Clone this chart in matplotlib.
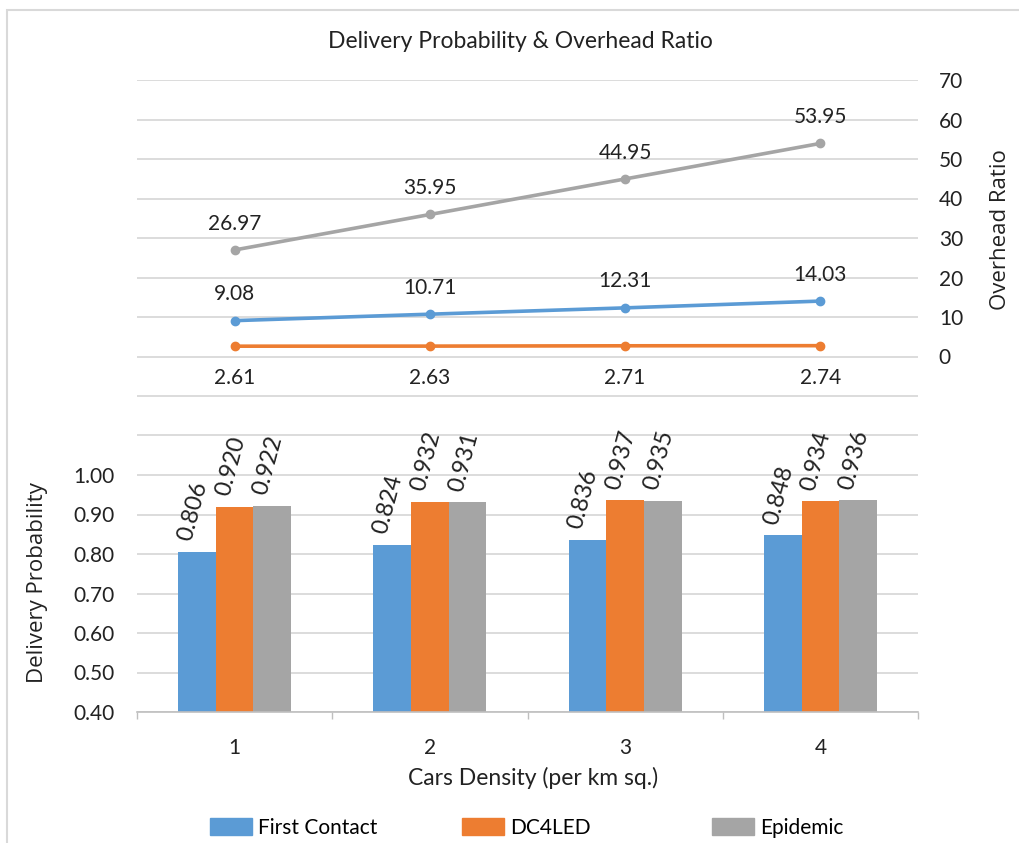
import matplotlib.pyplot as plt
import matplotlib.patches as mpatches
from matplotlib.ticker import FixedLocator, FuncFormatter
import numpy as np

plt.rcParams['font.family'] = ['Lato', 'DejaVu Sans']

# data
densities = ['1', '2', '3', '4']
series = ['First Contact', 'DC4LED', 'Epidemic']
delivery = {
    'First Contact': [0.806, 0.824, 0.836, 0.848],
    'DC4LED': [0.920, 0.932, 0.937, 0.934],
    'Epidemic': [0.922, 0.931, 0.935, 0.936],
}
overhead = {
    'First Contact': [9.08, 10.71, 12.31, 14.03],
    'DC4LED': [2.61, 2.63, 2.71, 2.74],
    'Epidemic': [26.97, 35.95, 44.95, 53.95],
}
colors = {'First Contact': '#5b9bd5', 'DC4LED': '#ed7d31', 'Epidemic': '#a5a5a5'}

fig = plt.figure(figsize=(10.19, 8.43), dpi=100)
# chart area border
fig.patches.append(mpatches.Rectangle((7 / 1019, -0.1), 1.2, 1.1 - 10 / 843,
                                      transform=fig.transFigure, fill=False,
                                      edgecolor='#d9d9d9', linewidth=1.5))

ax = fig.add_axes([137 / 1019, 1 - 712 / 843, (918 - 137) / 1019, (712 - 80) / 843])
x = np.arange(len(densities))
w = 0.193
for k, s in enumerate(series):
    xs = x + (k - 1) * w
    ax.bar(xs, delivery[s], w, bottom=0, color=colors[s], zorder=2)
    for xi, v in zip(xs, delivery[s]):
        ax.annotate(f'{v:.3f}', (xi, v), xytext=(-3, 6), textcoords='offset points',
                    rotation=75, ha='center', va='bottom', fontsize=17, color='#222222')

ax.set_ylim(0.40, 2.00)
ax.set_xlim(-0.5, 3.5)
yt = np.round(np.arange(0.4, 2.001, 0.1), 2)
ax.yaxis.set_major_locator(FixedLocator(yt))
ax.yaxis.set_major_formatter(FuncFormatter(lambda v, p: f'{v:.2f}' if v <= 1.001 else ''))
ax.grid(axis='y', color='#d9d9d9', linewidth=1.3, zorder=0)
ax.set_axisbelow(True)
ax.tick_params(axis='y', length=0, pad=16, labelsize=15, labelcolor='#222222')
ax.set_xticks(x)
ax.set_xticklabels(densities)
ax.set_xticks(np.arange(-0.5, 3.6, 1), minor=True)
ax.tick_params(axis='x', which='major', length=0, pad=19, labelsize=15, labelcolor='#222222')
ax.tick_params(axis='x', which='minor', length=5, color='#bfbfbf', width=1)
for sp in ['top', 'left', 'right']:
    ax.spines[sp].set_visible(False)
ax.spines['bottom'].set_color('#bfbfbf')
ax.spines['bottom'].set_linewidth(1.2)

ax2 = ax.twinx()
ax2.set_ylim(-90, 70)
ax2.yaxis.set_major_locator(FixedLocator(np.arange(0, 71, 10)))
ax2.tick_params(axis='y', length=0, pad=15, labelsize=15, labelcolor='#222222')
for sp in ['top', 'left', 'right', 'bottom']:
    ax2.spines[sp].set_visible(False)
for s in ['DC4LED', 'First Contact', 'Epidemic']:
    ax2.plot(x, overhead[s], color=colors[s], linewidth=2.6, marker='o', markersize=6, zorder=3)
    dy = -23 if s == 'DC4LED' else 19
    for xi, v in zip(x, overhead[s]):
        ax2.annotate(f'{v:.2f}', (xi, v), xytext=(0, dy), textcoords='offset points',
                     ha='center', va='center', fontsize=15, color='#222222')

fig.text(520 / 1019, 1 - 42 / 843, 'Delivery Probability & Overhead Ratio',
         ha='center', va='center', fontsize=16.5, color='#222222')
fig.text(38 / 1019, 1 - 583 / 843, 'Delivery Probability', rotation=90,
         ha='center', va='center', fontsize=16, color='#222222',
         family=['Open Sans', 'DejaVu Sans'])
fig.text(1000 / 1019, 1 - 230 / 843, 'Overhead Ratio', rotation=90,
         ha='center', va='center', fontsize=16, color='#222222',
         family=['Open Sans', 'DejaVu Sans'])
fig.text(533 / 1019, 1 - 778 / 843, 'Cars Density (per km sq.)',
         ha='center', va='center', fontsize=16.5, color='#222222')

# legend, one entry per slot like Excel
leg_x = [210, 462, 712]
for s, lx in zip(series, leg_x):
    h = mpatches.Patch(color=colors[s])
    fig.legend([h], [s], loc='center left', bbox_to_anchor=(lx / 1019, 1 - 828 / 843),
               frameon=False, fontsize=15, handlelength=2.0, handleheight=0.9,
               handletextpad=0.3, borderaxespad=0, borderpad=0)

fig.savefig('out.png', dpi=100)
